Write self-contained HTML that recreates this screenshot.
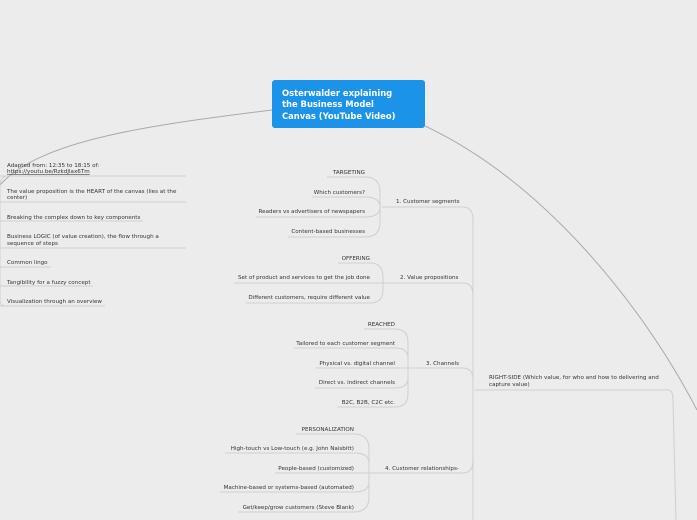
<!DOCTYPE html>
<html><head><meta charset="utf-8"><style>
html,body{margin:0;padding:0;background:#ececec;width:697px;height:520px;overflow:hidden}
svg{display:block}
text{font-family:"DejaVu Sans","Liberation Sans",sans-serif;font-size:5.6px;fill:#333}
.r{text-anchor:end}
</style></head><body>
<svg width="697" height="520" viewBox="0 0 697 520">
<g fill="none" stroke="#cfcfcf" stroke-width="1">
<path d="M272 110 C150 125 40 140 0 185" stroke="#aaa"/>
<path d="M425 126 C540 180 640 300 697 410" stroke="#aaa"/>
<path d="M0 176 H186 M0 202 H186 M0 221 H143 M0 248 H186 M0 267 H51 M0 286 H93 M0 306 H105"/>
<path d="M6 176 Q0 178 0 186 V300 Q0 306 6 306"/>
<path d="M382 207 H463 Q473 207 473 220 V520"/>
<path d="M327 177 H365 Q380 177 380 192 V222 Q380 237 365 237 H288"/>
<path d="M312 197 H365 Q380 197 380 207 M256 217 H365 Q380 217 380 207"/>
<path d="M397 283 H463 Q473 283 473 295"/>
<path d="M338 263 H370 Q383 263 383 277 V290 Q383 303 370 303 H246 M234 283 H397"/>
<path d="M420 368 H463 Q473 368 473 380"/>
<path d="M364 329 H395 Q408 329 408 342 V394 Q408 407 395 407 H337 M294 348 H395 Q408 348 408 358 M316 368 H420 M315 388 H395 Q408 388 408 378"/>
<path d="M475 390 H668 Q673 390 673 400 L676 520"/>
<path d="M371 473 H463 Q473 473 473 460"/>
<path d="M296 434 H354 Q369 434 369 449 V497 Q369 512 354 512 H238 M225 453 H354 Q369 453 369 463 M275 473 H371 M220 492 H354 Q369 492 369 482"/>
</g>
<rect x="272" y="80" width="153" height="48" rx="3" fill="#1a93e8"/>
<text x="282" y="96" style="font-size:8.4px;font-weight:bold;fill:#fff">Osterwalder explaining</text>
<text x="282" y="107" style="font-size:8.4px;font-weight:bold;fill:#fff">the Business Model</text>
<text x="282" y="119" style="font-size:8.4px;font-weight:bold;fill:#fff">Canvas (YouTube Video)</text>

<text x="7" y="167">Adapted from: 12:35 to 18:15 of:</text>
<text x="7" y="173" text-decoration="underline">https://youtu.be/RzkdJlax6Tm</text>
<text x="7" y="193">The value proposition is the HEART of the canvas (lies at the</text>
<text x="7" y="199">center)</text>
<text x="7" y="219">Breaking the complex down to key components</text>
<text x="7" y="238">Business LOGIC (of value creation), the flow through a</text>
<text x="7" y="245">sequence of steps</text>
<text x="7" y="264">Common lingo</text>
<text x="7" y="284">Tangibility for a fuzzy concept</text>
<text x="7" y="303">Visualization through an overview</text>

<text x="396" y="203">1. Customer segments</text>
<text class="r" x="365" y="174">TARGETING</text>
<text class="r" x="365" y="194">Which customers?</text>
<text class="r" x="365" y="213">Readers vs advertisers of newspapers</text>
<text class="r" x="365" y="233">Content-based businesses</text>

<text x="400" y="279">2. Value propositions</text>
<text class="r" x="370" y="260">OFFERING</text>
<text class="r" x="370" y="279">Set of product and services to get the job done</text>
<text class="r" x="370" y="299">Different customers, require different value</text>

<text x="426" y="365">3. Channels</text>
<text class="r" x="395" y="326">REACHED</text>
<text class="r" x="395" y="345">Tailored to each customer segment</text>
<text class="r" x="395" y="365">Physical vs. digital channel</text>
<text class="r" x="395" y="384">Direct vs. indirect channels</text>
<text class="r" x="395" y="404">B2C, B2B, C2C etc.</text>

<text x="489" y="379">RIGHT-SIDE (Which value, for who and how to delivering and</text>
<text x="489" y="386">capture value)</text>

<text x="385" y="470">4. Customer relationships-</text>
<text class="r" x="354" y="431">PERSONALIZATION</text>
<text class="r" x="354" y="450">High-touch vs Low-touch (e.g. John Naisbitt)</text>
<text class="r" x="354" y="470">People-based (customized)</text>
<text class="r" x="354" y="489">Machine-based or systems-based (automated)</text>
<text class="r" x="354" y="509">Get/keep/grow customers (Steve Blank)</text>
</svg>
</body></html>
